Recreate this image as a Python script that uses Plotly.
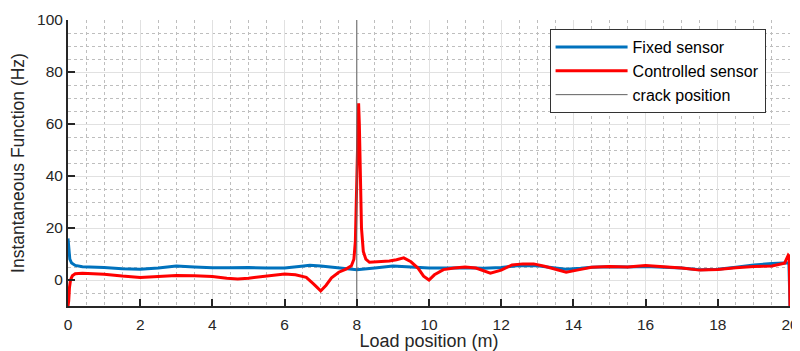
import plotly.graph_objects as go

# ---- data ----
x_fixed = [0, 0.02, 0.05, 0.1, 0.2, 0.4, 0.7, 1.0, 1.5, 2.0, 2.5, 3.0, 3.5, 4.0, 4.5,
           5.0, 5.5, 6.0, 6.4, 6.7, 7.0, 7.5, 8.0, 8.5, 9.0, 9.5, 10.0, 10.5, 11.0,
           11.5, 12.0, 12.5, 13.0, 13.5, 13.8, 14.2, 14.5, 15.0, 15.5, 16.0, 16.5,
           17.0, 17.5, 18.0, 18.5, 19.0, 19.5, 19.9, 19.97, 20.0]
y_fixed = [16, 11, 8, 6.5, 5.6, 5.1, 5.0, 4.8, 4.3, 4.1, 4.6, 5.4, 5.0, 4.7, 4.7,
           4.8, 4.6, 4.6, 5.2, 5.7, 5.4, 4.6, 3.9, 4.6, 5.4, 5.0, 4.6, 4.6, 4.7,
           4.5, 4.8, 5.6, 5.5, 4.6, 4.1, 4.5, 4.9, 5.1, 5.0, 5.2, 5.0,
           4.6, 3.9, 4.1, 4.9, 5.8, 6.3, 6.6, 6.6, -10]

x_ctrl = [0, 0.02, 0.04, 0.07, 0.12, 0.2, 0.4, 0.7, 1.0, 1.5, 2.0, 2.5, 3.0, 3.5,
          4.0, 4.4, 4.7, 5.0, 5.5, 6.0, 6.3, 6.6, 6.8, 7.0, 7.15, 7.3, 7.5, 7.7,
          7.85, 7.92, 7.96, 8.0, 8.03, 8.05, 8.07, 8.1, 8.13, 8.18, 8.25, 8.35,
          8.6, 8.9, 9.1, 9.3, 9.5, 9.7, 9.85, 10.0, 10.15, 10.4, 10.7, 11.0, 11.3,
          11.7, 12.0, 12.3, 12.6, 12.9, 13.2, 13.5, 13.8, 14.1, 14.5, 15.0, 15.5,
          16.0, 16.5, 17.0, 17.5, 18.0, 18.5, 19.0, 19.5, 19.85, 19.95, 19.98, 20.0]
y_ctrl = [-10, -8, -3, 0, 1.6, 2.4, 2.6, 2.4, 2.2, 1.5, 1.0, 1.3, 1.7, 1.6,
          1.3, 0.7, 0.4, 0.7, 1.6, 2.3, 2.0, 1.0, -1.5, -4.2, -2.0, 0.8, 3.0, 4.2,
          5.5, 8, 15, 35, 58, 68, 60, 38, 20, 11, 8, 6.8,
          7.0, 7.3, 7.8, 8.5, 7.0, 4.5, 1.5, 0.0, 2.0, 4.0, 4.6, 5.0, 4.6,
          2.6, 3.8, 5.8, 6.2, 6.2, 5.3, 4.0, 3.0, 3.8, 4.9, 5.2, 5.0,
          5.6, 5.2, 4.6, 3.8, 4.0, 4.7, 5.2, 5.4, 6.5, 9.5, 9.0, -10]

crack_x = [8, 8]
crack_y = [-10, 100]

x_tickvals = [0, 2, 4, 6, 8, 10, 12, 14, 16, 18, 20]
y_tickvals = [0, 20, 40, 60, 80, 100]

FONT = "Liberation Sans, Arial, Helvetica, sans-serif"
TXT = "#262626"

fig = go.Figure()
fig.add_trace(go.Scatter(x=x_fixed, y=y_fixed, mode="lines", name="Fixed sensor",
                         line=dict(color="rgb(0,114,189)", width=3)))
fig.add_trace(go.Scatter(x=x_ctrl, y=y_ctrl, mode="lines", name="Controlled sensor",
                         line=dict(color="#ff0000", width=3)))
fig.add_trace(go.Scatter(x=crack_x, y=crack_y, mode="lines", name="crack position",
                         line=dict(color="#606060", width=1)))

axis_common = dict(
    showline=True, linecolor=TXT, linewidth=2,
    ticks="inside", ticklen=7, tickwidth=2, tickcolor=TXT,
    showgrid=True, gridcolor="rgb(225,225,225)", gridwidth=1,
    zeroline=False, mirror=False, automargin=False,
    tickfont=dict(family=FONT, size=15.5, color=TXT),
)

fig.update_xaxes(
    **axis_common,
    range=[0, 20], tickvals=x_tickvals, ticklabelstandoff=3,
    minor=dict(dtick=0.5, showgrid=True, gridcolor="rgb(190,190,190)",
               griddash="dot", gridwidth=1, ticks=""),
    title=dict(text="Load position (m)", font=dict(family=FONT, size=18, color=TXT),
               standoff=3),
)
fig.update_yaxes(
    **axis_common,
    range=[-10, 100], tickvals=y_tickvals,
    minor=dict(dtick=5, showgrid=True, gridcolor="rgb(190,190,190)",
               griddash="dot", gridwidth=1, ticks=""),
    title=dict(text="Instantaneous Function (Hz)", font=dict(family=FONT, size=17.5, color=TXT)),
)

# page body has an 8px margin, so the figure is 792x343 and sits at (8, 8)
fig.update_layout(
    width=792, height=343,
    margin=dict(l=60, r=10, t=12, b=45),
    paper_bgcolor="white", plot_bgcolor="white",
    font=dict(family=FONT, color=TXT),
    showlegend=True,
    legend=dict(
        x=0.667, y=0.968, xanchor="left", yanchor="top",
        bgcolor="white", bordercolor="#333333", borderwidth=1,
        font=dict(family=FONT, size=16, color="black"),
        itemwidth=72, tracegroupgap=0,
    ),
)

fig.write_html("out.html")
